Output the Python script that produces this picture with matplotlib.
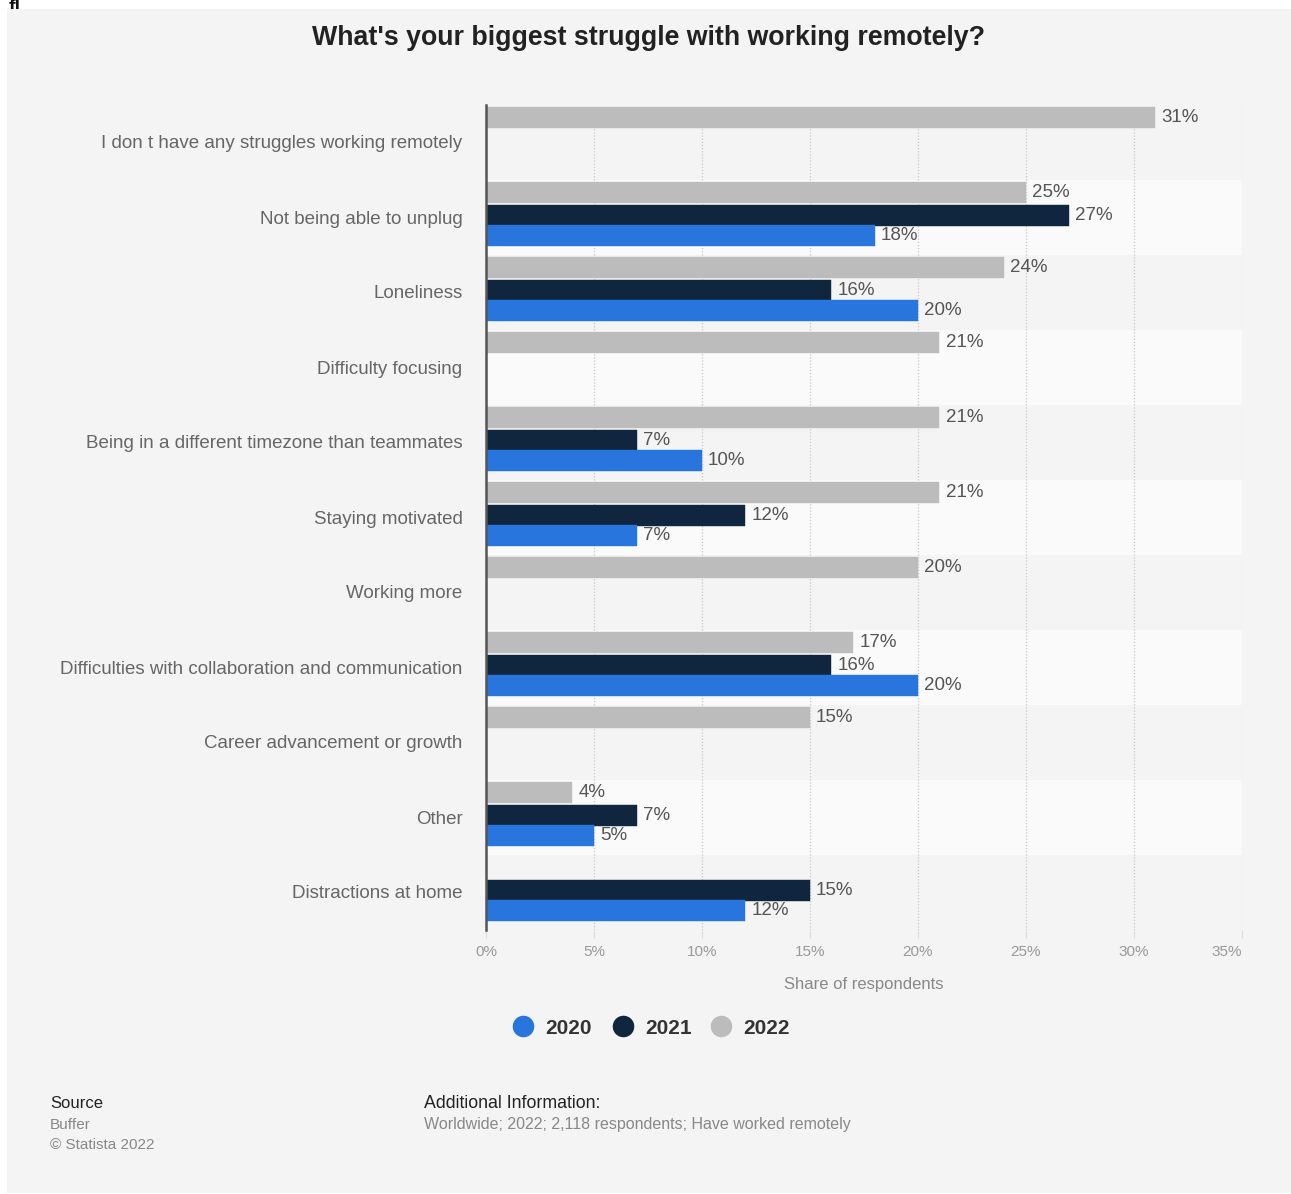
import numpy as np
import matplotlib
matplotlib.use("Agg")
import matplotlib.pyplot as plt
from matplotlib.patches import Rectangle
from matplotlib.lines import Line2D
from matplotlib.transforms import ScaledTranslation

plt.rcParams['font.family'] = ['Liberation Sans', 'DejaVu Sans']

categories = [
    "I don t have any struggles working remotely",
    "Not being able to unplug",
    "Loneliness",
    "Difficulty focusing",
    "Being in a different timezone than teammates",
    "Staying motivated",
    "Working more",
    "Difficulties with collaboration and communication",
    "Career advancement or growth",
    "Other",
    "Distractions at home",
]
nan = np.nan
v2022 = [31, 25, 24, 21, 21, 21, 20, 17, 15, 4, nan]
v2021 = [nan, 27, 16, nan, 7, 12, nan, 16, nan, 7, 15]
v2020 = [nan, 18, 20, nan, 10, 7, nan, 20, nan, 5, 12]
years = ["2020", "2021", "2022"]
xticks = [0, 5, 10, 15, 20, 25, 30, 35]

W, H = 1291, 1194
fig = plt.figure(figsize=(W / 100, H / 100), dpi=100, facecolor="white")

def fx(px):
    return px / W

def fy(py):
    return 1 - py / H

# clipped artifact text at top-left
fig.text(fx(9), fy(-1), "fl", ha="left", va="top", fontsize=14, fontweight="bold",
         color="#111111", zorder=0.5)
# gray panel
fig.add_artist(Rectangle((fx(7), fy(1193)), fx(1291) - fx(7), fy(9) - fy(1193),
                         transform=fig.transFigure, facecolor="#f4f4f4",
                         edgecolor="none", zorder=1))

ax = fig.add_axes([fx(486), fy(929.5), fx(1241.5) - fx(486), fy(104.5) - fy(929.5)])
ax.set_zorder(2)
ax.patch.set_visible(False)

n = len(categories)
y = np.arange(n)
for k in range(n):
    if k % 2 == 1:
        ax.axhspan(k - 0.5, k + 0.5, color="#fafafa", zorder=0.1, lw=0)

colors = {"2020": "#2876dd", "2021": "#10253e", "2022": "#bcbcbc"}
series = [("2022", v2022, -0.327), ("2021", v2021, -0.02), ("2020", v2020, 0.247)]
h = 0.272
for name, vals, off in series:
    vals = np.array(vals, dtype=float)
    m = ~np.isnan(vals)
    ax.barh(y[m] + off, vals[m], height=h, color=colors[name], zorder=3,
            edgecolor=colors[name], linewidth=0.3)
    for yy, vv in zip(y[m] + off, vals[m]):
        ax.annotate(f"{vv:.0f}%", (vv, yy), xytext=(4.5, 0), textcoords="offset points",
                    ha="left", va="center", fontsize=13.5, color="#555555", zorder=4)

ax.set_ylim(n - 0.5, -0.5)
ax.set_xlim(0, 35)
ax.set_yticks(y)
yl = ax.set_yticklabels(categories, fontsize=13.5, color="#666666")
shift = ScaledTranslation(0, 2.5 / 100, fig.dpi_scale_trans)
for t in yl:
    t.set_transform(t.get_transform() + shift)
ax.tick_params(axis="y", length=0, pad=17)
ax.set_xticks(xticks)
xl = ax.set_xticklabels([f"{t}%" for t in xticks], fontsize=11, color="#999999")
xl[-1].set_ha("right")
ax.tick_params(axis="x", length=6, color="#dddddd", pad=5.5)

ax.xaxis.grid(True, linestyle=(0, (1, 1.5)), color="#c8c8c8", linewidth=0.9, zorder=0.5)
ax.set_axisbelow(True)
for s in ["top", "right", "bottom"]:
    ax.spines[s].set_visible(False)
ax.spines["left"].set_color("#555555")
ax.spines["left"].set_linewidth(1.8)
ax.spines["left"].set_zorder(5)

ax.set_xlabel("Share of respondents", fontsize=12, color="#888888", va="center")
ax.xaxis.set_label_coords(0.5, -(984 - 929.5) / 825)

fig.text(fx(649), fy(38), "What's your biggest struggle with working remotely?",
         ha="center", va="center", fontsize=19.3, fontweight="bold", color="#222222")

# legend
leg_x = [523, 623, 721]
for yr, lx in zip(years, leg_x):
    fig.add_artist(Line2D([fx(lx)], [fy(1026)], marker="o", markersize=14.5,
                          color=colors[yr], linestyle="none", transform=fig.transFigure,
                          zorder=3))
    fig.text(fx(lx + 22), fy(1028), yr, ha="left", va="center", fontsize=15,
             fontweight="bold", color="#333333")

# footer
fig.text(fx(50), fy(1104), "Source", ha="left", va="center", fontsize=12, color="#222222")
fig.text(fx(50), fy(1125), "Buffer", ha="left", va="center", fontsize=11, color="#888888")
fig.text(fx(50), fy(1145), "\u00a9 Statista 2022", ha="left", va="center", fontsize=11,
         color="#888888")
fig.text(fx(424), fy(1104), "Additional Information:", ha="left", va="center", fontsize=12.8,
         color="#222222")
fig.text(fx(424), fy(1125), "Worldwide; 2022; 2,118 respondents; Have worked remotely",
         ha="left", va="center", fontsize=11.5, color="#888888")

fig.savefig("out.png", dpi=100, facecolor="white")
